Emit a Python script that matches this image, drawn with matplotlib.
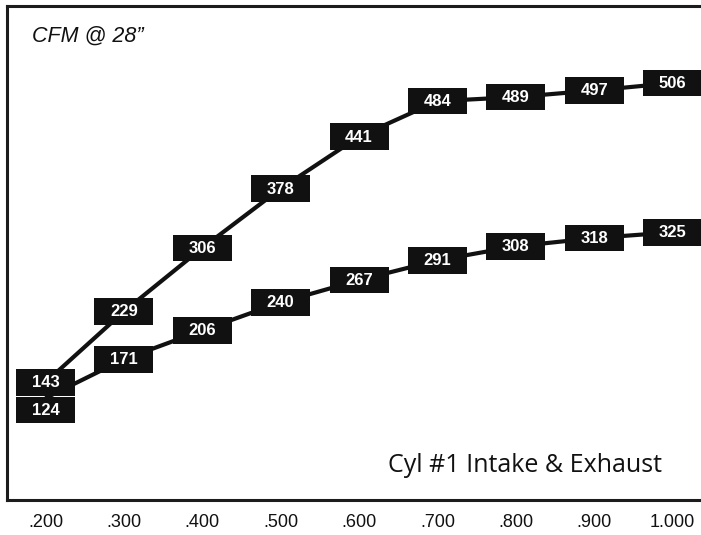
import matplotlib
matplotlib.use("Agg")
import matplotlib.pyplot as plt
from matplotlib.patches import Rectangle
from matplotlib.transforms import ScaledTranslation

lift = [0.2, 0.3, 0.4, 0.5, 0.6, 0.7, 0.8, 0.9, 1.0]
tick_labels = [".200", ".300", ".400", ".500", ".600", ".700", ".800", ".900", "1.000"]
intake = [143, 229, 306, 378, 441, 484, 489, 497, 506]
exhaust = [124, 171, 206, 240, 267, 291, 308, 318, 325]

DPI = 100
fig = plt.figure(figsize=(7.01, 5.35), dpi=DPI)
ax_w = 1.03
ax = fig.add_axes([6.5 / 701, 0.0648, ax_w, 0.9249])
ax.set_xlim(0.1503, 0.1503 + (ax_w * 701) / 784)
ax.set_ylim(0, 600)

ink = "#111111"
for s in ["left", "top", "bottom", "right"]:
    ax.spines[s].set_color("#1c1c1c")
    ax.spines[s].set_linewidth(2.2)

ax.plot(lift, intake, color=ink, lw=3.0, solid_capstyle="butt", zorder=2)
ax.plot(lift, exhaust, color=ink, lw=3.0, solid_capstyle="butt", zorder=2)

bw, bh = 0.59, 0.265  # inches


def label(x, y, text, dy_px=0.0):
    tr = fig.dpi_scale_trans + ScaledTranslation(x, y, ax.transData)
    dy = -dy_px / DPI
    ax.add_patch(Rectangle((-bw / 2, -bh / 2 + dy), bw, bh, transform=tr,
                           facecolor=ink, edgecolor="none", zorder=3, clip_on=False))
    ax.text(0, dy - 0.005, text, transform=tr, ha="center", va="center",
            color="white", fontsize=12, fontweight="bold",
            family="Liberation Sans", zorder=4)


for x, v in zip(lift, intake):
    label(x, v, str(v))
for i, (x, v) in enumerate(zip(lift, exhaust)):
    label(x, v, str(v), dy_px=12 if i == 0 else 0)

ax.set_xticks(lift)
ax.set_xticklabels(tick_labels, family="Liberation Sans", fontsize=13)
ax.tick_params(axis="x", length=0, pad=10, colors="#111111")
ax.set_yticks([])

fig.text(32 / 701, 1 - 42 / 535, "CFM @ 28\u201d", family="Liberation Sans",
         style="italic", fontsize=15.5, color="#111111", ha="left", va="baseline")
fig.text(662 / 701, 1 - 472 / 535, "Cyl #1 Intake & Exhaust", family="Open Sans",
         fontsize=18, color="#111111", ha="right", va="baseline")

fig.savefig("out.png", dpi=DPI)
